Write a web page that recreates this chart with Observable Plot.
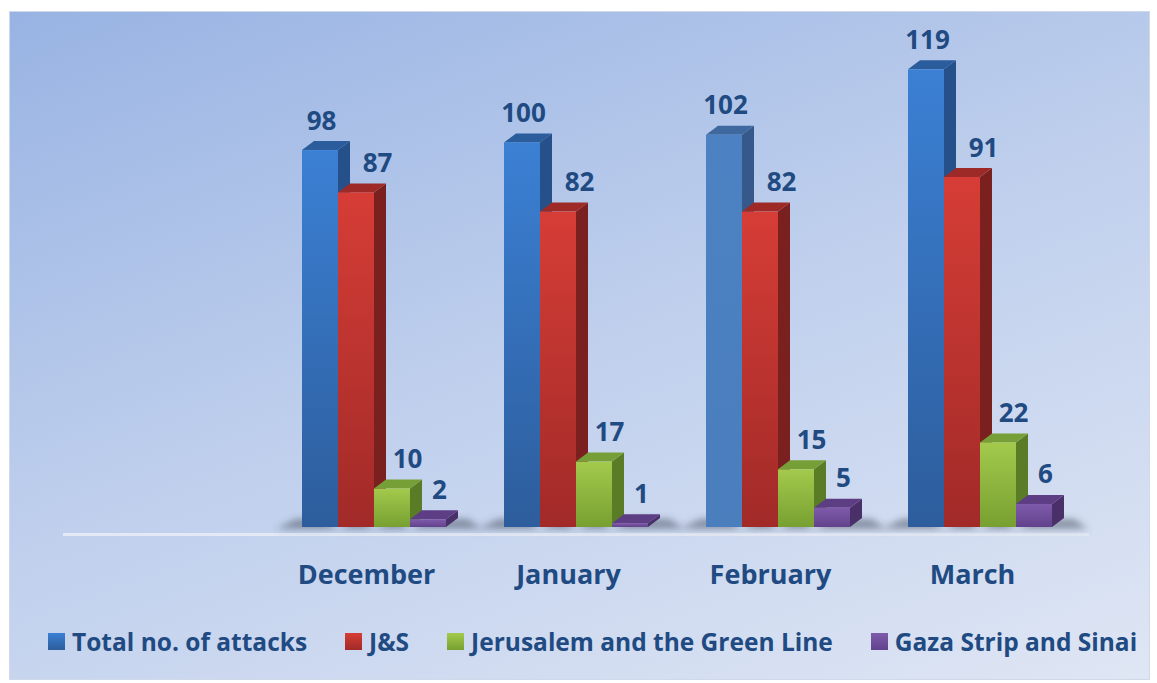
<!DOCTYPE html>
<html>
<head>
<meta charset="utf-8">
<script src="https://cdn.jsdelivr.net/npm/d3@7"></script>
<script src="https://cdn.jsdelivr.net/npm/@observablehq/plot@0.6"></script>
<style>
  html, body { margin: 0; padding: 0; background: #ffffff; }
  #panel {
    position: absolute; left: 9px; top: 11px; width: 1141px; height: 669px;
    background: linear-gradient(160deg, #98b3e3 0%, #bccdec 45%, #dfe6f4 100%);
    box-shadow: inset 0 0 0 1px #cfd9ea;
    overflow: hidden;
    font-family: "Open Sans", sans-serif;
  }
  #chart { position: absolute; left: 0; top: 0; }
  #legend {
    position: absolute; left: 39px; top: 616px; height: 28px;
    display: flex; align-items: center; gap: 38px;
    font-family: "Open Sans", sans-serif; font-weight: 700; font-size: 24.5px;
    color: #1f4a82; white-space: nowrap;
  }
  #legend .item { display: flex; align-items: center; gap: 7px; }
  #legend .sw { width: 17px; height: 17px; display: inline-block; }
</style>
</head>
<body>
<div id="panel">
  <div id="chart"></div>
  <div id="legend"></div>
</div>
<script>
// ---- data ----
const months = ["December", "January", "February", "March"];
const series = ["Total no. of attacks", "J&S", "Jerusalem and the Green Line", "Gaza Strip and Sinai"];
const totalAttacks = [98, 100, 102, 119];
const jsAttacks = [87, 82, 82, 91];
const jerusalemAttacks = [10, 17, 15, 22];
const gazaAttacks = [2, 1, 5, 6];

const seriesValues = [totalAttacks, jsAttacks, jerusalemAttacks, gazaAttacks];
const rows = [];
months.forEach((m, mi) => series.forEach((s, si) => rows.push({month: m, series: s, si, value: seriesValues[si][mi]})));

// ---- styling ----
const fxDomain = ["", ...months];
const frontGrad = ["gBlue", "gRed", "gGreen", "gPurple"];
const sideCol = ["#25508a", "#7a2120", "#5b7c26", "#4a3068"];
const topCol = ["#2b5c9c", "#9d2a27", "#76a037", "#5d3d84"];
const labelDx = [1, 21, 15, 11];
const depthX = 12, depthY = -9;
const textColor = "#1f4a82";

function frontFill(d) {
  if (d.month === "February" && d.si === 0) return "url(#gBlueFlat)";
  return `url(#${frontGrad[d.si]})`;
}

function faces(index, scales, values, dimensions, context, next) {
  const g = d3.create("svg:g");
  const bw = scales.x.bandwidth();
  // shadows
  for (const i of index) {
    const x0 = values.x[i], x1 = x0 + bw;
    const base = Math.max(values.y1[i], values.y2[i]);
    const first = rows[i].si === 0, last = rows[i].si === 3;
    const l = x0 - (first ? 26 : 0), r = x1 + (last ? 36 : 0);
    g.append("path")
      .attr("d", `M${l},${base + 2} L${r},${base + 2} L${r - 14},${base - 8} L${l + 20},${base - 8} Z`)
      .attr("fill", "#3c4658").attr("fill-opacity", 0.5).attr("filter", "url(#blur)");
  }
  for (const i of index) {
    const d = rows[i];
    const x0 = values.x[i], x1 = x0 + bw;
    const base = Math.max(values.y1[i], values.y2[i]);
    const top = Math.min(values.y1[i], values.y2[i]);
    const flat = d.month === "February" && d.si === 0;
    g.append("path")
      .attr("d", `M${x1},${top} L${x1 + depthX},${top + depthY} L${x1 + depthX},${base + depthY} L${x1},${base} Z`)
      .attr("fill", flat ? "#35598a" : sideCol[d.si]);
    g.append("path")
      .attr("d", `M${x0},${top} L${x1},${top} L${x1 + depthX},${top + depthY} L${x0 + depthX},${top + depthY} Z`)
      .attr("fill", flat ? "#3f689e" : topCol[d.si]);
  }
  return g.node();
}

const textMarks = series.map((s, si) => Plot.text(rows.filter(d => d.si === si), {
  fx: "month", x: "series", y: "value", text: d => String(d.value),
  dx: labelDx[si], dy: -21, lineAnchor: "bottom",
  fontSize: 26, fontWeight: 700, fill: textColor, fontFamily: "Open Sans"
}));

const chart = Plot.plot({
  width: 1141,
  height: 600,
  marginTop: 16,
  marginBottom: 84,
  marginLeft: 61,
  marginRight: 68,
  style: {background: "transparent", color: textColor, fontFamily: "Open Sans", overflow: "visible"},
  fx: {domain: fxDomain, padding: 0, label: null, axis: null},
  x: {domain: series, paddingInner: 0, paddingOuter: 0.735, axis: null},
  y: {domain: [0, 130], axis: null},
  marks: [
    Plot.ruleY(fxDomain, {fx: d => d, y: 0, dy: 7, stroke: "#e3eaf6", strokeWidth: 3, insetLeft: -8, insetRight: -8}),
    Plot.barY(rows, {fx: "month", x: "series", y: "value", fill: "#000", render: faces}),
    Plot.barY(rows, {fx: "month", x: "series", y: "value", fill: frontFill}),
    ...textMarks,
    Plot.axisFx({domain: months, anchor: "bottom", tickSize: 0, tickPadding: 37, dx: -8,
      fontSize: 27, fontWeight: 700, fill: textColor, label: null, fontFamily: "Open Sans"})
  ]
});

// gradient defs
const defs = d3.create("svg:defs");
function grad(id, c1, c2) {
  const lg = defs.append("linearGradient").attr("id", id).attr("x1", 0).attr("y1", 0).attr("x2", 0).attr("y2", 1);
  lg.append("stop").attr("offset", "0%").attr("stop-color", c1);
  lg.append("stop").attr("offset", "100%").attr("stop-color", c2);
}
grad("gBlue", "#3b80d4", "#2d5d9c");
grad("gRed", "#d63d36", "#a12a28");
grad("gGreen", "#a3ca4c", "#77a031");
grad("gPurple", "#7f5bab", "#62428c");
grad("gBlueFlat", "#4c82c3", "#4a7ebd");
defs.append("filter").attr("id", "blur").attr("x", "-20%").attr("y", "-100%").attr("width", "140%").attr("height", "300%")
  .append("feGaussianBlur").attr("stdDeviation", 3.5);
chart.insertBefore(defs.node(), chart.firstChild);
document.getElementById("chart").appendChild(chart);

// legend
const swGrad = [["#3b80d4", "#2d5d9c"], ["#d63d36", "#a12a28"], ["#a3ca4c", "#77a031"], ["#7f5bab", "#62428c"]];
const legend = document.getElementById("legend");
series.forEach((s, si) => {
  const item = document.createElement("div");
  item.className = "item";
  const sw = document.createElement("span");
  sw.className = "sw";
  sw.style.background = `linear-gradient(${swGrad[si][0]}, ${swGrad[si][1]})`;
  const t = document.createElement("span");
  t.textContent = s;
  item.appendChild(sw); item.appendChild(t);
  legend.appendChild(item);
});
</script>
</body>
</html>
